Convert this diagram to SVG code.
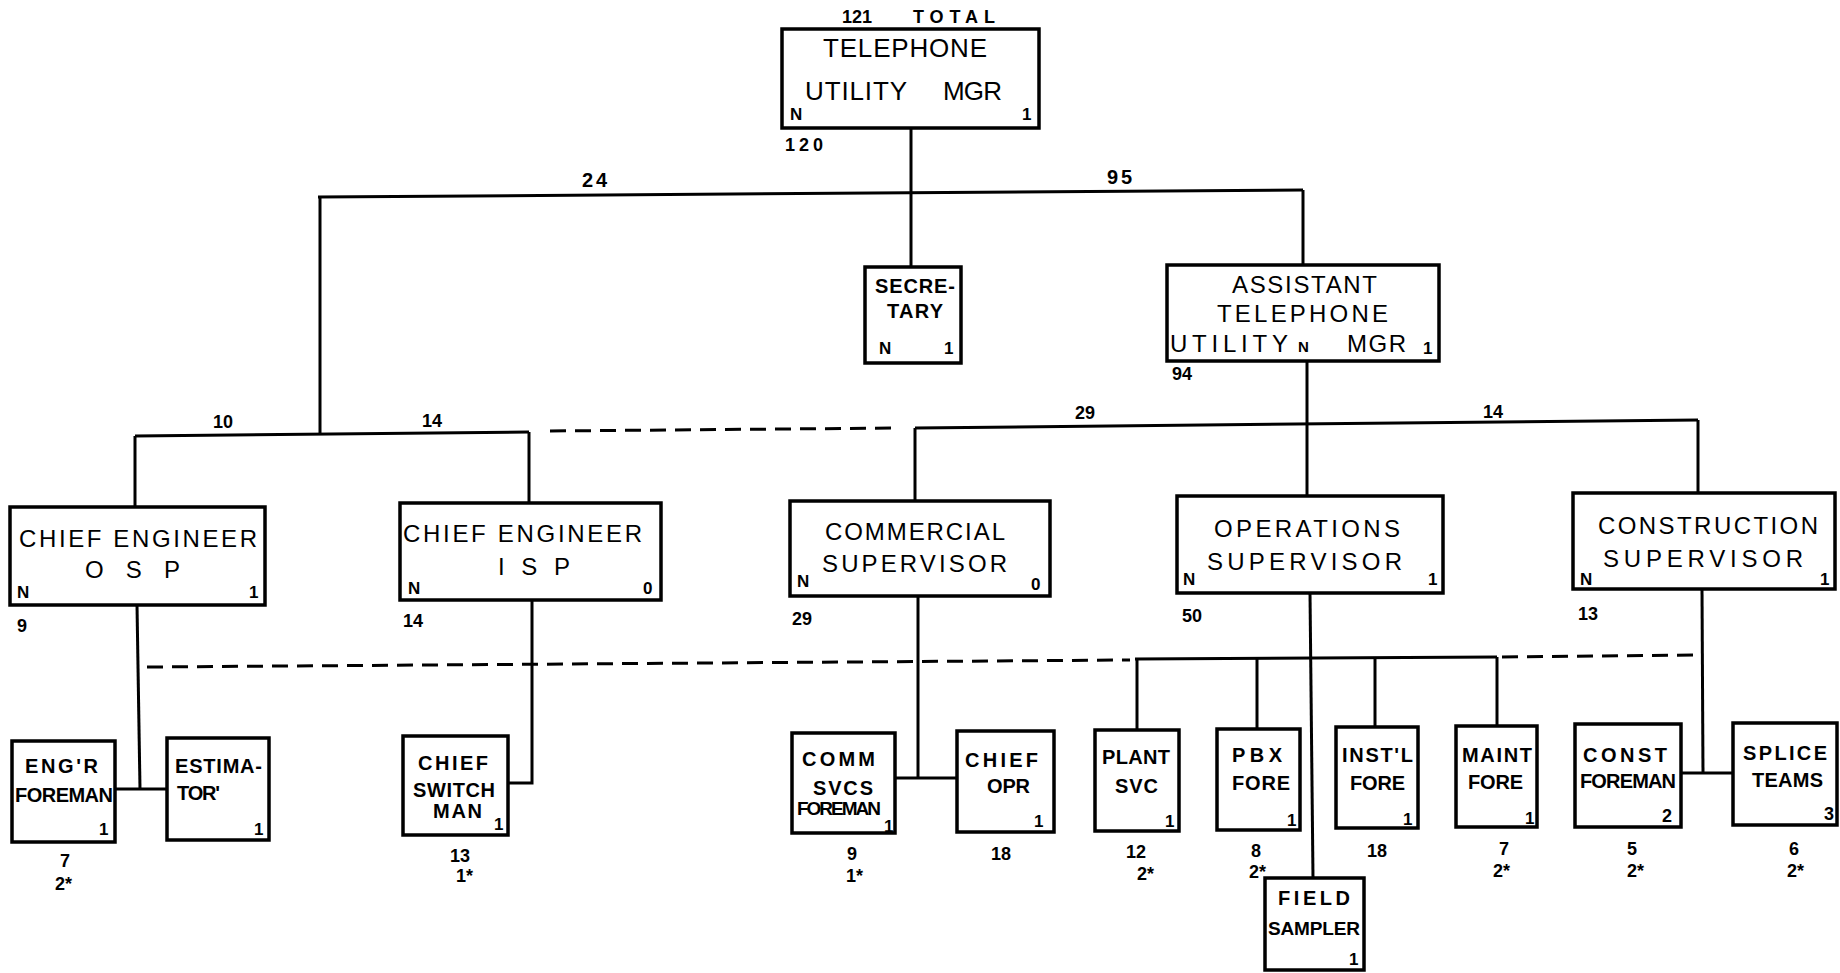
<svg xmlns="http://www.w3.org/2000/svg" width="1840" height="973" viewBox="0 0 1840 973">
<style>
.box{fill:#fff;stroke:#000;stroke-width:3.5}
.ln{fill:none;stroke:#000;stroke-width:3}
.dash{fill:none;stroke:#000;stroke-width:3;stroke-dasharray:16 9}
text{font-family:"Liberation Sans",Arial,sans-serif;fill:#000}
.L{font-size:26px}
.M{font-size:24px}
.S{font-size:20px;font-weight:bold}
.n{font-size:18px;font-weight:bold}
.k{font-size:17px;font-weight:bold}
.w{font-size:20px;font-weight:bold;letter-spacing:3px}
</style>
<rect width="1840" height="973" fill="#fff"/>
<g id="connectors">
<path class="ln" d="M911,128 V267"/>
<path class="ln" d="M318,197 L1303,190"/>
<path class="ln" d="M320,196 V433"/>
<path class="ln" d="M1303,190 V265"/>
<path class="ln" d="M135,436 L529,432"/>
<path class="ln" d="M135,436 V507"/>
<path class="ln" d="M529,432 V503"/>
<path class="dash" d="M550,431 L900,428"/>
<path class="ln" d="M915,428 L1698,420"/>
<path class="ln" d="M1307,361 V496"/>
<path class="ln" d="M915,428 V501"/>
<path class="ln" d="M1698,420 V493"/>
<path class="ln" d="M137,605 L140,789"/>
<path class="ln" d="M115,789 H168"/>
<path class="ln" d="M532,600 V783 H508"/>
<path class="ln" d="M918,596 V778"/>
<path class="ln" d="M895,778 H957"/>
<path class="ln" d="M1310,593 L1313,878"/>
<path class="ln" d="M1135,659 L1497,657"/>
<path class="ln" d="M1137,659 V730"/>
<path class="ln" d="M1257,659 V729"/>
<path class="ln" d="M1375,658 V727"/>
<path class="ln" d="M1497,657 V726"/>
<path class="dash" d="M147,667 L1130,660"/>
<path class="dash" d="M1502,657 L1702,655"/>
<path class="ln" d="M1702,589 L1703,773"/>
<path class="ln" d="M1681,773 H1733"/>
<text class="w" x="582" y="187">24</text>
<text class="w" x="1107" y="184">95</text>
</g>
<g id="telephone-utility-mgr">
<text class="n" x="842" y="23" textLength="30">121</text>
<text class="n" x="913" y="23" textLength="82">TOTAL</text>
<rect class="box" x="782" y="29" width="257" height="99"/>
<text class="L" x="823" y="57" textLength="164">TELEPHONE</text>
<text class="L" x="805" y="100" textLength="102">UTILITY</text>
<text class="L" x="943" y="100" textLength="59">MGR</text>
<text class="k" x="790" y="120">N</text>
<text class="k" x="1022" y="120">1</text>
<text class="n" x="785" y="151" textLength="38">120</text>
</g>
<g id="secretary">
<rect class="box" x="865" y="267" width="96" height="96"/>
<text class="S" x="875" y="293" textLength="80">SECRE-</text>
<text class="S" x="887" y="318" textLength="56">TARY</text>
<text class="k" x="879" y="354">N</text>
<text class="k" x="944" y="354">1</text>
</g>
<g id="assistant-telephone-utility-mgr">
<rect class="box" x="1167" y="265" width="272" height="96"/>
<text class="M" x="1232" y="293" textLength="145">ASSISTANT</text>
<text class="M" x="1217" y="322" textLength="171">TELEPHONE</text>
<text class="M" x="1170" y="352" textLength="118">UTILITY</text>
<text class="k" x="1298" y="352" style="font-size:15px">N</text>
<text class="M" x="1347" y="352" textLength="59">MGR</text>
<text class="k" x="1423" y="354">1</text>
<text class="n" x="1172" y="380">94</text>
</g>
<g id="chief-engineer-osp">
<text class="n" x="213" y="428">10</text>
<text class="n" x="422" y="427">14</text>
<rect class="box" x="10" y="507" width="255" height="98"/>
<text class="M" x="19" y="547" textLength="238">CHIEF ENGINEER</text>
<text class="M" x="85" y="578" textLength="95">O S P</text>
<text class="k" x="17" y="598">N</text>
<text class="k" x="249" y="598">1</text>
<text class="n" x="17" y="632">9</text>
</g>
<g id="chief-engineer-isp">
<rect class="box" x="400" y="503" width="261" height="97"/>
<text class="M" x="403" y="542" textLength="239">CHIEF ENGINEER</text>
<text class="M" x="498" y="575" textLength="72">I S P</text>
<text class="k" x="408" y="594">N</text>
<text class="k" x="643" y="594">0</text>
<text class="n" x="403" y="627">14</text>
</g>
<g id="commercial-supervisor">
<text class="n" x="1075" y="419">29</text>
<rect class="box" x="790" y="501" width="260" height="95"/>
<text class="M" x="825" y="540" textLength="180">COMMERCIAL</text>
<text class="M" x="822" y="572" textLength="185">SUPERVISOR</text>
<text class="k" x="797" y="587">N</text>
<text class="k" x="1031" y="590">0</text>
<text class="n" x="792" y="625">29</text>
</g>
<g id="operations-supervisor">
<rect class="box" x="1177" y="496" width="266" height="97"/>
<text class="M" x="1214" y="537" textLength="186">OPERATIONS</text>
<text class="M" x="1207" y="570" textLength="195">SUPERVISOR</text>
<text class="k" x="1183" y="585">N</text>
<text class="k" x="1428" y="585">1</text>
<text class="n" x="1182" y="622">50</text>
</g>
<g id="construction-supervisor">
<text class="n" x="1483" y="418">14</text>
<rect class="box" x="1573" y="493" width="262" height="96"/>
<text class="M" x="1598" y="534" textLength="220">CONSTRUCTION</text>
<text class="M" x="1603" y="567" textLength="200">SUPERVISOR</text>
<text class="k" x="1580" y="585">N</text>
<text class="k" x="1820" y="585">1</text>
<text class="n" x="1578" y="620">13</text>
</g>
<g id="engr-foreman">
<rect class="box" x="12" y="741" width="103" height="101"/>
<text class="S" x="25" y="773" textLength="73">ENG'R</text>
<text class="S" x="15" y="802" textLength="98">FOREMAN</text>
<text class="k" x="99" y="835">1</text>
<text class="n" x="60" y="867">7</text>
<text class="n" x="55" y="890">2*</text>
</g>
<g id="estimator">
<rect class="box" x="167" y="738" width="102" height="102"/>
<text class="S" x="175" y="773" textLength="87">ESTIMA-</text>
<text class="S" x="177" y="800" textLength="43">TOR'</text>
<text class="k" x="254" y="835">1</text>
</g>
<g id="chief-switchman">
<rect class="box" x="403" y="736" width="105" height="99"/>
<text class="S" x="418" y="770" textLength="70">CHIEF</text>
<text class="S" x="413" y="797" textLength="82">SWITCH</text>
<text class="S" x="433" y="818" textLength="49">MAN</text>
<text class="k" x="494" y="830">1</text>
<text class="n" x="450" y="862">13</text>
<text class="n" x="456" y="882">1*</text>
</g>
<g id="comm-svcs-foreman">
<rect class="box" x="792" y="733" width="103" height="100"/>
<text class="S" x="802" y="766" textLength="73">COMM</text>
<text class="S" x="813" y="795" textLength="60">SVCS</text>
<text class="S" x="797" y="815" textLength="84" style="font-size:19px">FOREMAN</text>
<text class="k" x="884" y="832">1</text>
<text class="n" x="847" y="860">9</text>
<text class="n" x="846" y="882">1*</text>
</g>
<g id="chief-opr">
<rect class="box" x="957" y="731" width="97" height="101"/>
<text class="S" x="965" y="767" textLength="73">CHIEF</text>
<text class="S" x="987" y="793" textLength="43">OPR</text>
<text class="k" x="1034" y="827">1</text>
<text class="n" x="991" y="860">18</text>
</g>
<g id="plant-svc">
<rect class="box" x="1095" y="730" width="84" height="101"/>
<text class="S" x="1102" y="764" textLength="68">PLANT</text>
<text class="S" x="1115" y="793" textLength="43">SVC</text>
<text class="k" x="1165" y="827">1</text>
<text class="n" x="1126" y="858">12</text>
<text class="n" x="1137" y="880">2*</text>
</g>
<g id="pbx-fore">
<rect class="box" x="1217" y="729" width="83" height="101"/>
<text class="S" x="1232" y="762" textLength="50">PBX</text>
<text class="S" x="1232" y="790" textLength="58">FORE</text>
<text class="k" x="1287" y="826">1</text>
<text class="n" x="1251" y="857">8</text>
<text class="n" x="1249" y="878">2*</text>
</g>
<g id="field-sampler">
<rect class="box" x="1265" y="878" width="99" height="92"/>
<text class="S" x="1278" y="905" textLength="72">FIELD</text>
<text class="S" x="1268" y="935" textLength="92" style="font-size:19px">SAMPLER</text>
<text class="k" x="1349" y="965">1</text>
</g>
<g id="instl-fore">
<rect class="box" x="1336" y="727" width="82" height="101"/>
<text class="S" x="1342" y="762" textLength="71">INST'L</text>
<text class="S" x="1350" y="790" textLength="55">FORE</text>
<text class="k" x="1403" y="825">1</text>
<text class="n" x="1367" y="857">18</text>
</g>
<g id="maint-fore">
<rect class="box" x="1456" y="726" width="81" height="101"/>
<text class="S" x="1462" y="762" textLength="70">MAINT</text>
<text class="S" x="1468" y="789" textLength="55">FORE</text>
<text class="k" x="1525" y="824">1</text>
<text class="n" x="1499" y="855">7</text>
<text class="n" x="1493" y="877">2*</text>
</g>
<g id="const-foreman">
<rect class="box" x="1575" y="724" width="106" height="103"/>
<text class="S" x="1583" y="762" textLength="84">CONST</text>
<text class="S" x="1580" y="788" textLength="96">FOREMAN</text>
<text class="n" x="1662" y="822">2</text>
<text class="n" x="1627" y="855">5</text>
<text class="n" x="1627" y="877">2*</text>
</g>
<g id="splice-teams">
<rect class="box" x="1733" y="723" width="104" height="102"/>
<text class="S" x="1743" y="760" textLength="84">SPLICE</text>
<text class="S" x="1752" y="787" textLength="71">TEAMS</text>
<text class="n" x="1824" y="820">3</text>
<text class="n" x="1789" y="855">6</text>
<text class="n" x="1787" y="877">2*</text>
</g>
</svg>
